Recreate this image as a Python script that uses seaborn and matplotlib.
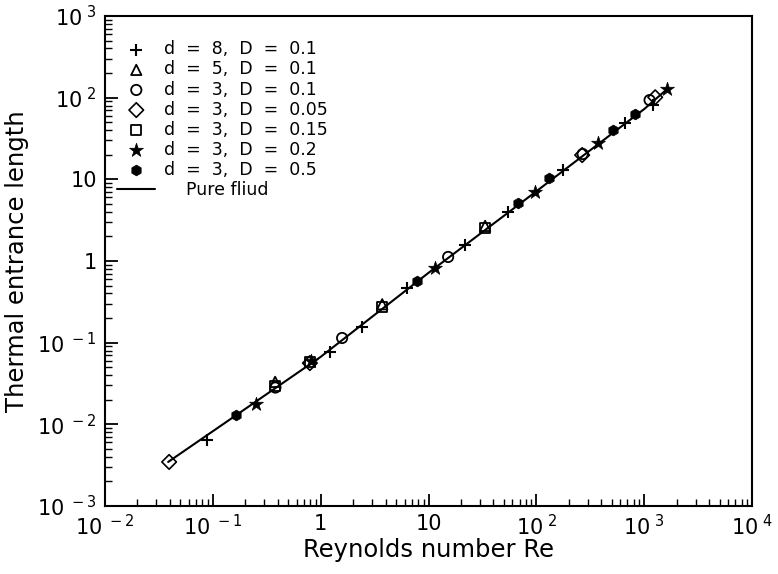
import numpy as np
import pandas as pd
import matplotlib
matplotlib.use("Agg")
import matplotlib.pyplot as plt
import seaborn as sns

# ---- data ----
re_d8_D01 = [0.0883, 1.22, 2.42, 6.32, 21.9, 54.7, 177, 667, 1211]
L_d8_D01 = [0.00643, 0.0767, 0.155, 0.466, 1.57, 3.97, 13.0, 48.8, 80.9]

re_d5_D01 = [0.378, 3.72, 33.5]
L_d5_D01 = [0.0331, 0.295, 2.69]

re_d3_D01 = [0.380, 1.58, 15.2, 269, 1122]
L_d3_D01 = [0.0282, 0.114, 1.12, 20.4, 93.3]

re_d3_D005 = [0.0393, 0.794, 266, 1265]
L_d3_D005 = [0.00346, 0.0562, 19.8, 101]

re_d3_D015 = [0.378, 0.798, 3.72, 33.5]
L_d3_D015 = [0.0295, 0.0579, 0.273, 2.53]

re_d3_D02 = [0.252, 0.813, 11.5, 97.5, 374, 1633]
L_d3_D02 = [0.0177, 0.0603, 0.818, 6.97, 27.7, 127]

re_d3_D05 = [0.164, 7.83, 67.8, 132, 515, 826]
L_d3_D05 = [0.0130, 0.568, 5.12, 10.4, 40.0, 62.8]

re_pure = [0.0385, 0.164, 1, 10, 100, 1000, 1630]
L_pure = [0.00346, 0.0129, 0.067, 0.716, 7.13, 72.4, 127]

labels = ["d  =  8,  D  =  0.1", "d  =  5,  D  =  0.1", "d  =  3,  D  =  0.1",
          "d  =  3,  D  =  0.05", "d  =  3,  D  =  0.15", "d  =  3,  D  =  0.2",
          "d  =  3,  D  =  0.5"]
pure_label = "    Pure fliud"
xticklabels = ["10$^{\\ -2}$", "10$^{\\ -1}$", "1", "10", "10$^{\\ 2}$", "10$^{\\ 3}$", "10$^{\\ 4}$"]
yticklabels = ["10$^{\\ -3}$", "10$^{\\ -2}$", "10$^{\\ -1}$", "1", "10", "10$^{\\ 2}$", "10$^{\\ 3}$"]

series = [(re_d8_D01, L_d8_D01), (re_d5_D01, L_d5_D01), (re_d3_D01, L_d3_D01),
          (re_d3_D005, L_d3_D005), (re_d3_D015, L_d3_D015), (re_d3_D02, L_d3_D02),
          (re_d3_D05, L_d3_D05)]

rows = []
for lab, (rr, ll) in zip(labels, series):
    for r, l in zip(rr, ll):
        rows.append({"Re": r, "L": l, "case": lab})
df = pd.DataFrame(rows)
pure = pd.DataFrame({"Re": re_pure, "L": L_pure})

sns.set_theme(style="ticks")
plt.rcParams["font.family"] = ["DejaVu Sans"]
plt.rcParams["mathtext.fontset"] = "dejavusans"
plt.rcParams["text.color"] = "black"
plt.rcParams["axes.labelcolor"] = "black"
plt.rcParams["xtick.color"] = "black"
plt.rcParams["ytick.color"] = "black"

fig = plt.figure(figsize=(7.78, 5.74), dpi=100)
ax = fig.add_axes([0.135, 0.1185, 0.8316, 0.8537])

styles = {
    labels[0]: dict(marker="+", s=70, color="black", linewidths=1.5),
    labels[1]: dict(marker="^", s=55, facecolors="none", edgecolors="black", linewidths=1.3),
    labels[2]: dict(marker="o", s=55, facecolors="none", edgecolors="black", linewidths=1.3),
    labels[3]: dict(marker="D", s=55, facecolors="none", edgecolors="black", linewidths=1.2),
    labels[4]: dict(marker="s", s=55, facecolors="none", edgecolors="black", linewidths=1.3),
    labels[5]: dict(marker="*", s=110, color="black", linewidths=0.5),
    labels[6]: dict(marker="h", s=60, color="black", linewidths=0.5),
}

sns.lineplot(data=pure, x="Re", y="L", ax=ax, color="black", lw=1.5,
             label=pure_label, zorder=2)
for lab in labels:
    sub = df[df["case"] == lab]
    ax.scatter(sub["Re"], sub["L"], label=lab, zorder=3, **styles[lab])

ax.set_xscale("log")
ax.set_yscale("log")
ax.set_xlim(1e-2, 1e4)
ax.set_ylim(1e-3, 1e3)
ax.set_xticks([1e-2, 1e-1, 1, 10, 1e2, 1e3, 1e4])
ax.set_xticklabels(xticklabels)
ax.set_yticks([1e-3, 1e-2, 1e-1, 1, 10, 1e2, 1e3])
ax.set_yticklabels(yticklabels)
ax.tick_params(axis="both", which="major", direction="in", length=9, width=1.3,
               labelsize=15, top=False, right=False, pad=6)
ax.tick_params(axis="both", which="minor", direction="in", length=5, width=1.0,
               top=False, right=False)
for sp in ax.spines.values():
    sp.set_linewidth(1.5)
    sp.set_color("black")

ax.set_xlabel("Reynolds number Re", fontsize=17.5, labelpad=-1)
ax.set_ylabel("Thermal entrance length", fontsize=17.5, labelpad=6)

handles, hl = ax.get_legend_handles_labels()
order = [hl.index(l) for l in labels] + [hl.index(pure_label)]
ax.legend([handles[i] for i in order], [hl[i] for i in order],
          loc="upper left", frameon=False, fontsize=12.5,
          handlelength=2.2, handletextpad=0.5, labelspacing=0.12,
          borderaxespad=0.3, bbox_to_anchor=(0.0, 0.975))

fig.savefig("out.png", dpi=100, facecolor="white")
